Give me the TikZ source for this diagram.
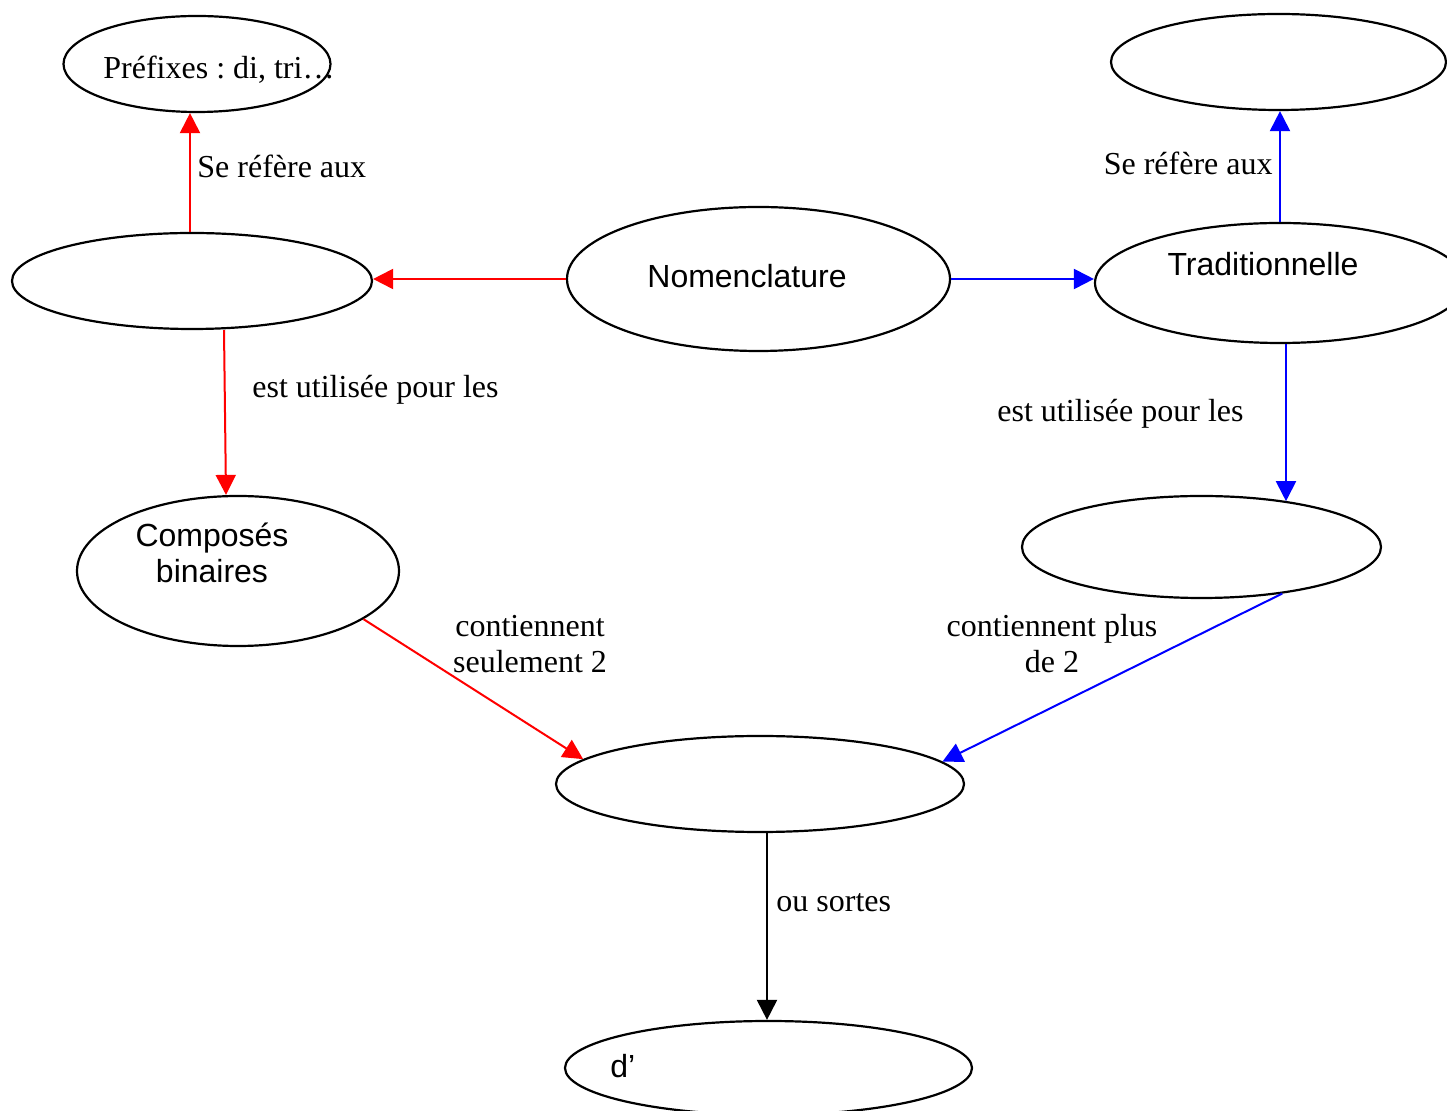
\documentclass[tikz,border=0pt]{standalone}
\usepackage{fontspec}
\setmainfont{Liberation Serif}
\setsansfont{Liberation Sans}
\usetikzlibrary{arrows.meta,shapes.geometric}
\frenchspacing
\begin{document}
\begin{tikzpicture}[x=0.5pt,y=-0.5pt,
  concept/.style={draw,ellipse,line width=1.1pt,inner sep=0pt},
  link/.style={line width=1pt,-{Triangle[length=10pt,width=10pt]}},
  lbl/.style={font=\fontsize{16}{18}\selectfont,inner sep=0pt},
  ctxt/.style={font=\sffamily\fontsize{16}{18}\selectfont,inner sep=0pt,align=center}]
\useasboundingbox (0,0) rectangle (1447,1111);
\clip (0,0) rectangle (1447,1111);

% concept ellipses
\node[concept,minimum width=133.5pt,minimum height=48pt] (pref) at (197,64) {};
\node[concept,minimum width=167.5pt,minimum height=48pt] (topr) at (1278.5,62) {};
\node[concept,minimum width=180pt,minimum height=48pt] (leftm) at (192,281) {};
\node[concept,minimum width=191.5pt,minimum height=72pt] (nom) at (758.5,279) {};
\node[concept,minimum width=185pt,minimum height=60pt] (trad) at (1280,283) {};
\node[concept,minimum width=161pt,minimum height=75pt] (comp) at (238,571) {};
\node[concept,minimum width=179.5pt,minimum height=51pt] (rightm) at (1201.5,547) {};
\node[concept,minimum width=204pt,minimum height=48pt] (bot) at (760,784) {};
\node[concept,minimum width=203.5pt,minimum height=47pt] (dd) at (768.5,1068) {};

% texts inside the ellipses (multi-line nodes sit on their last baseline)
\node[lbl,anchor=base west] (preft) at (103,79) {Préfixes : di, tri…};
\node[ctxt,anchor=base] (nomt) at (747,288) {Nomenclature};
\node[ctxt,anchor=base] (tradt) at (1263,276) {Traditionnelle};
\node[ctxt,anchor=base] (compt) at (212,583) {Composés\\binaires};
\node[ctxt,anchor=base west] (ddt) at (610,1078) {d’};

% connector labels
\node[lbl,anchor=base west] (l1) at (197,178) {Se réfère aux};
\node[lbl,anchor=base east] (l2) at (1273,175) {Se réfère aux};
\node[lbl,anchor=base west] (l3) at (252,398) {est utilisée pour les};
\node[lbl,anchor=base west] (l4) at (997,422) {est utilisée pour les};
\node[lbl,align=center,anchor=base] (l5) at (530,673) {contiennent\\seulement 2};
\node[lbl,align=center,anchor=base] (l6) at (1052,673) {contiennent plus\\de 2};
\node[lbl,anchor=base west] (l7) at (776,912) {ou sortes};

% connectors
\draw[link,red] ([xshift=-1pt]leftm.north) -- ([xshift=-1pt]leftm.north |- pref.south);
\draw[link,red] (nom.west) -- (nom.west -| leftm.east);
\draw[link,red] ([xshift=16pt]leftm.south) -- ([xshift=-6pt]comp.north);
\draw[link,red] (comp.-21) -- (bot.172);
\draw[link,blue] (nom.east) -- (nom.east -| trad.west);
\draw[link,blue] (trad.north) -- (trad.north |- topr.south);
\draw[link,blue] ([xshift=3pt]trad.south) -- ([xshift=3pt]trad.south |- rightm.28);
\draw[link,blue] (rightm.-30) -- (bot.7);
\draw[link] ([xshift=3.5pt]bot.south) -- ([xshift=3.5pt]bot.south |- dd.north);
\end{tikzpicture}
\end{document}
